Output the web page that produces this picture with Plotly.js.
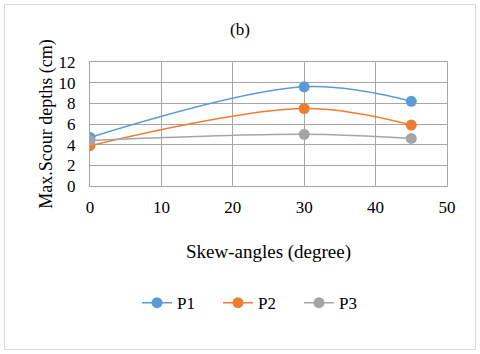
<!DOCTYPE html>
<html>
<head>
<meta charset="utf-8">
<script src="https://cdn.plot.ly/plotly-3.0.1.min.js"></script>
<style>
  body { margin: 0; background: #fff; }
  #plot { width: 480px; height: 354px; }
  #frame { position: absolute; left: 4px; top: 4px; width: 470px; height: 344px;
           border: 1px solid #d9d9d9; pointer-events: none; }
</style>
</head>
<body>
<div id="plot"></div>
<div id="frame"></div>
<script>
// skew angles and scour depths
var angles = [0, 30, 45];
var p1 = [4.7, 9.6, 8.2];
var p2 = [3.9, 7.5, 5.9];
var p3 = [4.4, 5.0, 4.6];

function series(name, y, color) {
  return {
    x: angles,
    y: y,
    name: name,
    mode: "lines+markers",
    type: "scatter",
    line: { color: color, width: 1.5, shape: "spline", smoothing: 1 },
    marker: { color: color, size: 11 }
  };
}

var data = [
  series("P1", p1, "#5b9bd5"),
  series("P2", p2, "#ed7d31"),
  series("P3", p3, "#a5a5a5")
];

var serif = "Liberation Serif";

function f(size) {
  return { family: serif, size: size, color: "#000" };
}

var layout = {
  width: 480,
  height: 354,
  margin: { l: 90, r: 33, t: 62, b: 168 },
  paper_bgcolor: "#fff",
  plot_bgcolor: "#fff",
  font: f(17),
  showlegend: true,
  title: { text: "(b)", x: 0.5, xanchor: "center", y: 0.918, yanchor: "middle", font: f(17) },
  xaxis: {
    range: [0, 50],
    dtick: 10,
    showgrid: true,
    gridcolor: "#a6a6a6",
    zeroline: false,
    showline: true,
    linecolor: "#a6a6a6",
    mirror: true,
    ticks: "",
    ticklabelstandoff: 6,
    tickfont: f(17),
    title: { text: "Skew-angles (degree)", standoff: 28, font: f(19) }
  },
  yaxis: {
    range: [0, 12],
    dtick: 2,
    showgrid: true,
    gridcolor: "#a6a6a6",
    zeroline: false,
    showline: true,
    linecolor: "#a6a6a6",
    mirror: true,
    ticks: "",
    ticklabelstandoff: 10,
    tickfont: f(17),
    title: { text: "Max.Scour depths (cm)", standoff: 1, font: f(18) }
  },
  legend: {
    orientation: "h",
    x: 0.472,
    xanchor: "center",
    y: -0.945,
    yanchor: "middle",
    entrywidth: 36,
    entrywidthmode: "pixels",
    font: f(17)
  }
};

Plotly.newPlot("plot", data, layout, { displayModeBar: false });
</script>
</body>
</html>
